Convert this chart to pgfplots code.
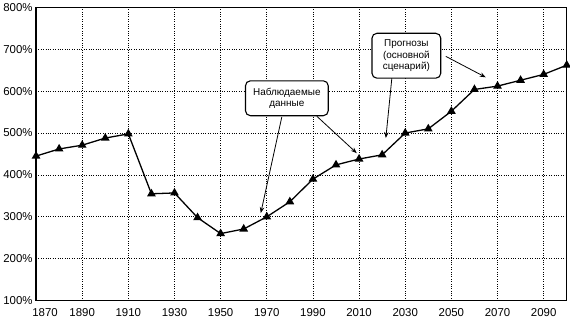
\documentclass[border=0pt]{standalone}
\usepackage{pgfplots}
\pgfplotsset{compat=1.18}
\usepackage{fontspec}
\setmainfont{Liberation Sans}
\usetikzlibrary{arrows.meta}
\begin{document}
\begin{tikzpicture}
\begin{axis}[
  scale only axis,
  width=532bp, height=294bp,
  xmin=1870, xmax=2100,
  ymin=100, ymax=800,
  xtick={1890,1910,...,2090},
  extra x ticks={1870},
  extra x tick style={xticklabel style={xshift=9bp}},
  ytick={100,200,...,800},
  yticklabel={\pgfmathprintnumber{\tick}\%},
  xticklabel style={/pgf/number format/1000 sep={}, yshift=-4bp},
  /pgf/number format/assume math mode=true,
  tick label style={font=\fontsize{11.5}{13}\selectfont},
  major tick length=0pt,
  grid=major,
  grid style={black, dotted, line width=0.7pt},
  axis line style={black, line width=1.4pt},
  clip=false,
]
\addplot[black, line width=1.3pt, mark=triangle*, mark size=3.8pt] coordinates {
(1870,445) (1880,462) (1890,471) (1900,488) (1910,498)
(1920,355) (1930,357) (1940,298) (1950,260) (1960,271)
(1970,300) (1980,336) (1990,390) (2000,424) (2010,438)
(2020,448) (2030,500) (2040,510) (2050,552) (2060,604)
(2070,612) (2080,626) (2090,640) (2100,662)
};
\draw[-{Stealth[length=6pt,width=4.5pt]}, line width=0.8pt] (axis cs:1976.5,538) -- (axis cs:1967.4,309);
\draw[-{Stealth[length=6pt,width=4.5pt]}, line width=0.8pt] (axis cs:1991.7,540) -- (axis cs:2009,452);
\draw[-{Stealth[length=6pt,width=4.5pt]}, line width=0.8pt] (axis cs:2024.2,631) -- (axis cs:2021.6,488);
\draw[-{Stealth[length=6pt,width=4.5pt]}, line width=0.8pt] (axis cs:2047.6,683) -- (axis cs:2064.9,633);
\node[draw, line width=1.1pt, rounded corners=5pt, fill=white, minimum width=83bp, minimum height=35bp, align=center, inner sep=1pt, font=\fontsize{10}{11.5}\selectfont] at (axis cs:1978.7,583) {Наблюдаемые\\данные};
\node[draw, line width=1.1pt, rounded corners=5pt, fill=white, minimum width=69bp, minimum height=45bp, align=center, inner sep=1pt, font=\fontsize{10}{11.5}\selectfont] at (axis cs:2030.5,684.5) {Прогнозы\\(основной\\сценарий)};
\end{axis}
\end{tikzpicture}
\end{document}
